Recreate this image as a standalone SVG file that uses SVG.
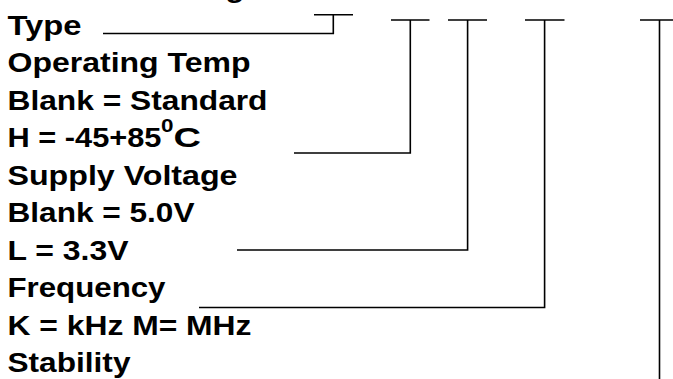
<svg xmlns="http://www.w3.org/2000/svg" width="673" height="379" viewBox="0 0 673 379">
<style>
.t{font-family:"Liberation Sans",Arial,sans-serif;font-weight:bold;font-size:28px;fill:#000}
.s{font-family:"Liberation Sans",Arial,sans-serif;font-weight:bold;font-size:18px;fill:#000}
.c{fill:none;stroke:#000;stroke-width:1.6}
</style>
<rect width="673" height="379" fill="#fff"/>
<g id="labels">
<g id="title"><text class="t" x="7.5" y="-3" textLength="237" lengthAdjust="spacingAndGlyphs">Part Numbering</text></g>
<g id="type"><text class="t" x="7.5" y="34.5" textLength="74" lengthAdjust="spacingAndGlyphs">Type</text></g>
<g id="temp">
<text class="t" x="7.5" y="72" textLength="243" lengthAdjust="spacingAndGlyphs">Operating Temp</text>
<text class="t" x="7.5" y="109.5" textLength="260" lengthAdjust="spacingAndGlyphs">Blank = Standard</text>
<text class="t" x="7.5" y="147" textLength="154" lengthAdjust="spacingAndGlyphs">H = -45+85</text>
<text class="s" x="161" y="131.5" textLength="12.5" lengthAdjust="spacingAndGlyphs">0</text>
<text class="t" x="173.5" y="147" textLength="27.5" lengthAdjust="spacingAndGlyphs">C</text>
</g>
<g id="voltage">
<text class="t" x="7.5" y="184.5" textLength="230" lengthAdjust="spacingAndGlyphs">Supply Voltage</text>
<text class="t" x="7.5" y="222" textLength="187" lengthAdjust="spacingAndGlyphs">Blank = 5.0V</text>
<text class="t" x="7.5" y="259.5" textLength="121" lengthAdjust="spacingAndGlyphs">L = 3.3V</text>
</g>
<g id="frequency">
<text class="t" x="7.5" y="297" textLength="158" lengthAdjust="spacingAndGlyphs">Frequency</text>
<text class="t" x="7.5" y="334.5" textLength="244" lengthAdjust="spacingAndGlyphs">K = kHz M= MHz</text>
</g>
<g id="stability"><text class="t" x="7.5" y="372" textLength="123" lengthAdjust="spacingAndGlyphs">Stability</text></g>
</g>
<g id="connectors">
<path class="c" d="M103 33.5 H333.3 V14.7 M314 14.7 H353"/>
<path class="c" d="M391 20 H429.5 M410.3 20 V153 H294"/>
<path class="c" d="M448 20 H487 M467.6 20 V250 H237"/>
<path class="c" d="M525 20 H564.5 M544.6 20 V307.5 H199"/>
<path class="c" d="M640 20 H679 M659.5 20 V379"/>
</g>
</svg>
